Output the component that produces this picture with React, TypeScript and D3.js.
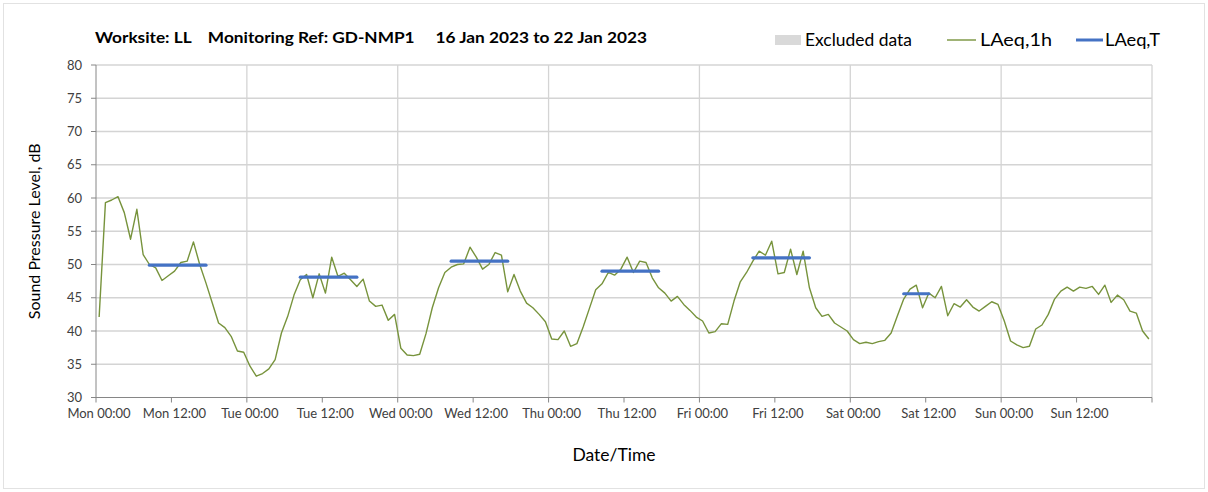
import * as d3 from 'd3';

// hourly LAeq,1h readings, Mon 00:00 .. Sun 23:00 (168 values)
const laeq1h: number[] = [
  42.1, 59.3, 59.7, 60.2, 57.8, 53.8, 58.3, 51.5, 50.0, 49.5, 47.6, 48.3,
  49.0, 50.3, 50.5, 53.4, 50.0, 47.2, 44.2, 41.2, 40.5, 39.2, 37.0, 36.8,
  34.7, 33.2, 33.6, 34.3, 35.7, 39.7, 42.2, 45.4, 47.7, 48.5, 45.0, 48.6,
  45.7, 51.1, 48.2, 48.7, 47.7, 46.7, 47.8, 44.5, 43.7, 43.9, 41.6, 42.5,
  37.4, 36.4, 36.3, 36.5, 39.6, 43.5, 46.5, 48.8, 49.6, 50.0, 50.1, 52.6,
  51.1, 49.3, 50.0, 51.8, 51.4, 45.9, 48.5, 46.0, 44.2, 43.5, 42.5, 41.4,
  38.8, 38.7, 40.0, 37.7, 38.1, 40.6, 43.4, 46.2, 47.1, 48.8, 48.4, 49.3,
  51.1, 48.8, 50.5, 50.3, 48.0, 46.5, 45.7, 44.5, 45.2, 44.0, 43.1, 42.1,
  41.5, 39.7, 39.9, 41.1, 41.0, 44.5, 47.4, 48.8, 50.5, 52.0, 51.4, 53.5,
  48.6, 48.8, 52.3, 48.5, 52.0, 46.5, 43.5, 42.2, 42.5, 41.2, 40.6, 40.0,
  38.7, 38.1, 38.3, 38.1, 38.4, 38.6, 39.7, 42.3, 44.8, 46.3, 46.9, 43.5,
  45.7, 45.0, 46.7, 42.3, 44.1, 43.6, 44.7, 43.6, 43.0, 43.7, 44.4, 44.0,
  41.5, 38.5, 37.9, 37.5, 37.7, 40.3, 40.9, 42.5, 44.8, 46.0, 46.6, 46.0,
  46.6, 46.4, 46.7, 45.5, 46.9, 44.3, 45.4, 44.7, 43.0, 42.7, 40.0, 38.8,
];

// LAeq,T over the working period of each day
const periodDays: number[] = [0, 1, 2, 3, 4, 5];
const periodStart: number[] = [8, 8, 8, 8, 8, 8];
const periodEnd: number[] = [17, 17, 17, 17, 17, 12];
const laeqT: number[] = [49.9, 48.1, 50.5, 49.0, 51.0, 45.6];

const xTickLabels: string[] = [
  'Mon 00:00', 'Mon 12:00', 'Tue 00:00', 'Tue 12:00', 'Wed 00:00', 'Wed 12:00',
  'Thu 00:00', 'Thu 12:00', 'Fri 00:00', 'Fri 12:00', 'Sat 00:00', 'Sat 12:00',
  'Sun 00:00', 'Sun 12:00',
];
const yTicks: number[] = [30, 35, 40, 45, 50, 55, 60, 65, 70, 75, 80];

const W = 1208;
const H = 492;
const FONT = 'Lato, "Open Sans", sans-serif';
const GREEN = '#77933c';
const BLUE = '#4472c4';
const GRID = '#d4d4d4';

export default function App() {
  const x = d3.scaleLinear().domain([0, 168]).range([96, 1152]);
  const y = d3.scaleLinear().domain([30, 80]).range([397.5, 65]);

  const line = d3.line<number>()
    .x((_, i) => x(i + 0.5))
    .y(d => y(d));

  const dayTicks = d3.range(0, 169, 24);
  const halfDayTicks = d3.range(0, 169, 12);

  return (
    <svg width={W} height={H} style={{ position: 'absolute', left: 0, top: 0, background: '#fff' }}
      fontFamily={FONT}>
      <rect x={3.5} y={3.5} width={W - 7} height={H - 7} fill="none" stroke="#e2e2e2" />

      {/* horizontal grid */}
      {yTicks.slice(1).map(t => (
        <line key={'hg' + t} x1={x(0)} x2={x(168)} y1={y(t)} y2={y(t)} stroke={GRID} strokeWidth={1.3} />
      ))}
      {/* vertical grid at day boundaries */}
      {dayTicks.slice(1).map(t => (
        <line key={'vg' + t} x1={x(t)} x2={x(t)} y1={y(80)} y2={y(30)} stroke={GRID} strokeWidth={1.3} />
      ))}

      {/* y axis */}
      <line x1={x(0)} x2={x(0)} y1={y(80)} y2={y(30)} stroke="#868686" />
      {yTicks.map(t => (
        <g key={'yt' + t}>
          <line x1={x(0) - 5} x2={x(0)} y1={y(t)} y2={y(t)} stroke="#868686" />
          <text x={x(0) - 14} y={y(t)} dy="0.35em" textAnchor="end" fontSize={13} fill="#404040">{t}</text>
        </g>
      ))}

      {/* x axis */}
      <line x1={x(0)} x2={x(168)} y1={y(30)} y2={y(30)} stroke="#868686" />
      {halfDayTicks.map(t => (
        <line key={'xt' + t} x1={x(t)} x2={x(t)} y1={y(30)} y2={y(30) + 5} stroke="#868686" />
      ))}
      {xTickLabels.map((lab, i) => (
        <text key={lab} x={x(i * 12) + 3} y={418} textAnchor="middle" fontSize={13} fill="#404040">{lab}</text>
      ))}

      {/* series */}
      <path d={line(laeq1h) ?? ''} fill="none" stroke={GREEN} strokeWidth={1.4} strokeLinejoin="round" />
      {periodDays.map((d, i) => (
        <line key={'t' + d} x1={x(d * 24 + periodStart[i] + 0.5)} x2={x(d * 24 + periodEnd[i] + 0.5)}
          y1={y(laeqT[i])} y2={y(laeqT[i])} stroke={BLUE} strokeWidth={3.2} strokeLinecap="round" />
      ))}

      {/* titles */}
      <text x={95} y={43} fontSize={15.5} fontWeight="bold" fill="#000" textLength={552} lengthAdjust="spacingAndGlyphs"
        style={{ whiteSpace: 'pre' }}>
        {'Worksite: LL    Monitoring Ref: GD-NMP1     16 Jan 2023 to 22 Jan 2023'}
      </text>
      <text transform={`translate(40, ${(y(80) + y(30)) / 2}) rotate(-90)`} textAnchor="middle" fontSize={16}
        fill="#000">Sound Pressure Level, dB</text>
      <text x={614} y={461} textAnchor="middle" fontSize={17.5} fill="#000">Date/Time</text>

      {/* legend */}
      <rect x={775} y={35} width={26} height={10} fill="#d9d9d9" />
      <text x={805} y={46} fontSize={16.5} fill="#000" textLength={107} lengthAdjust="spacingAndGlyphs">Excluded data</text>
      <line x1={947} x2={976} y1={40} y2={40} stroke={GREEN} strokeWidth={1.4} />
      <text x={980} y={46} fontSize={16.5} fill="#000" textLength={72} lengthAdjust="spacingAndGlyphs">LAeq,1h</text>
      <line x1={1076} x2={1103} y1={40} y2={40} stroke={BLUE} strokeWidth={3} />
      <text x={1105} y={46} fontSize={16.5} fill="#000" textLength={55} lengthAdjust="spacingAndGlyphs">LAeq,T</text>
    </svg>
  );
}
